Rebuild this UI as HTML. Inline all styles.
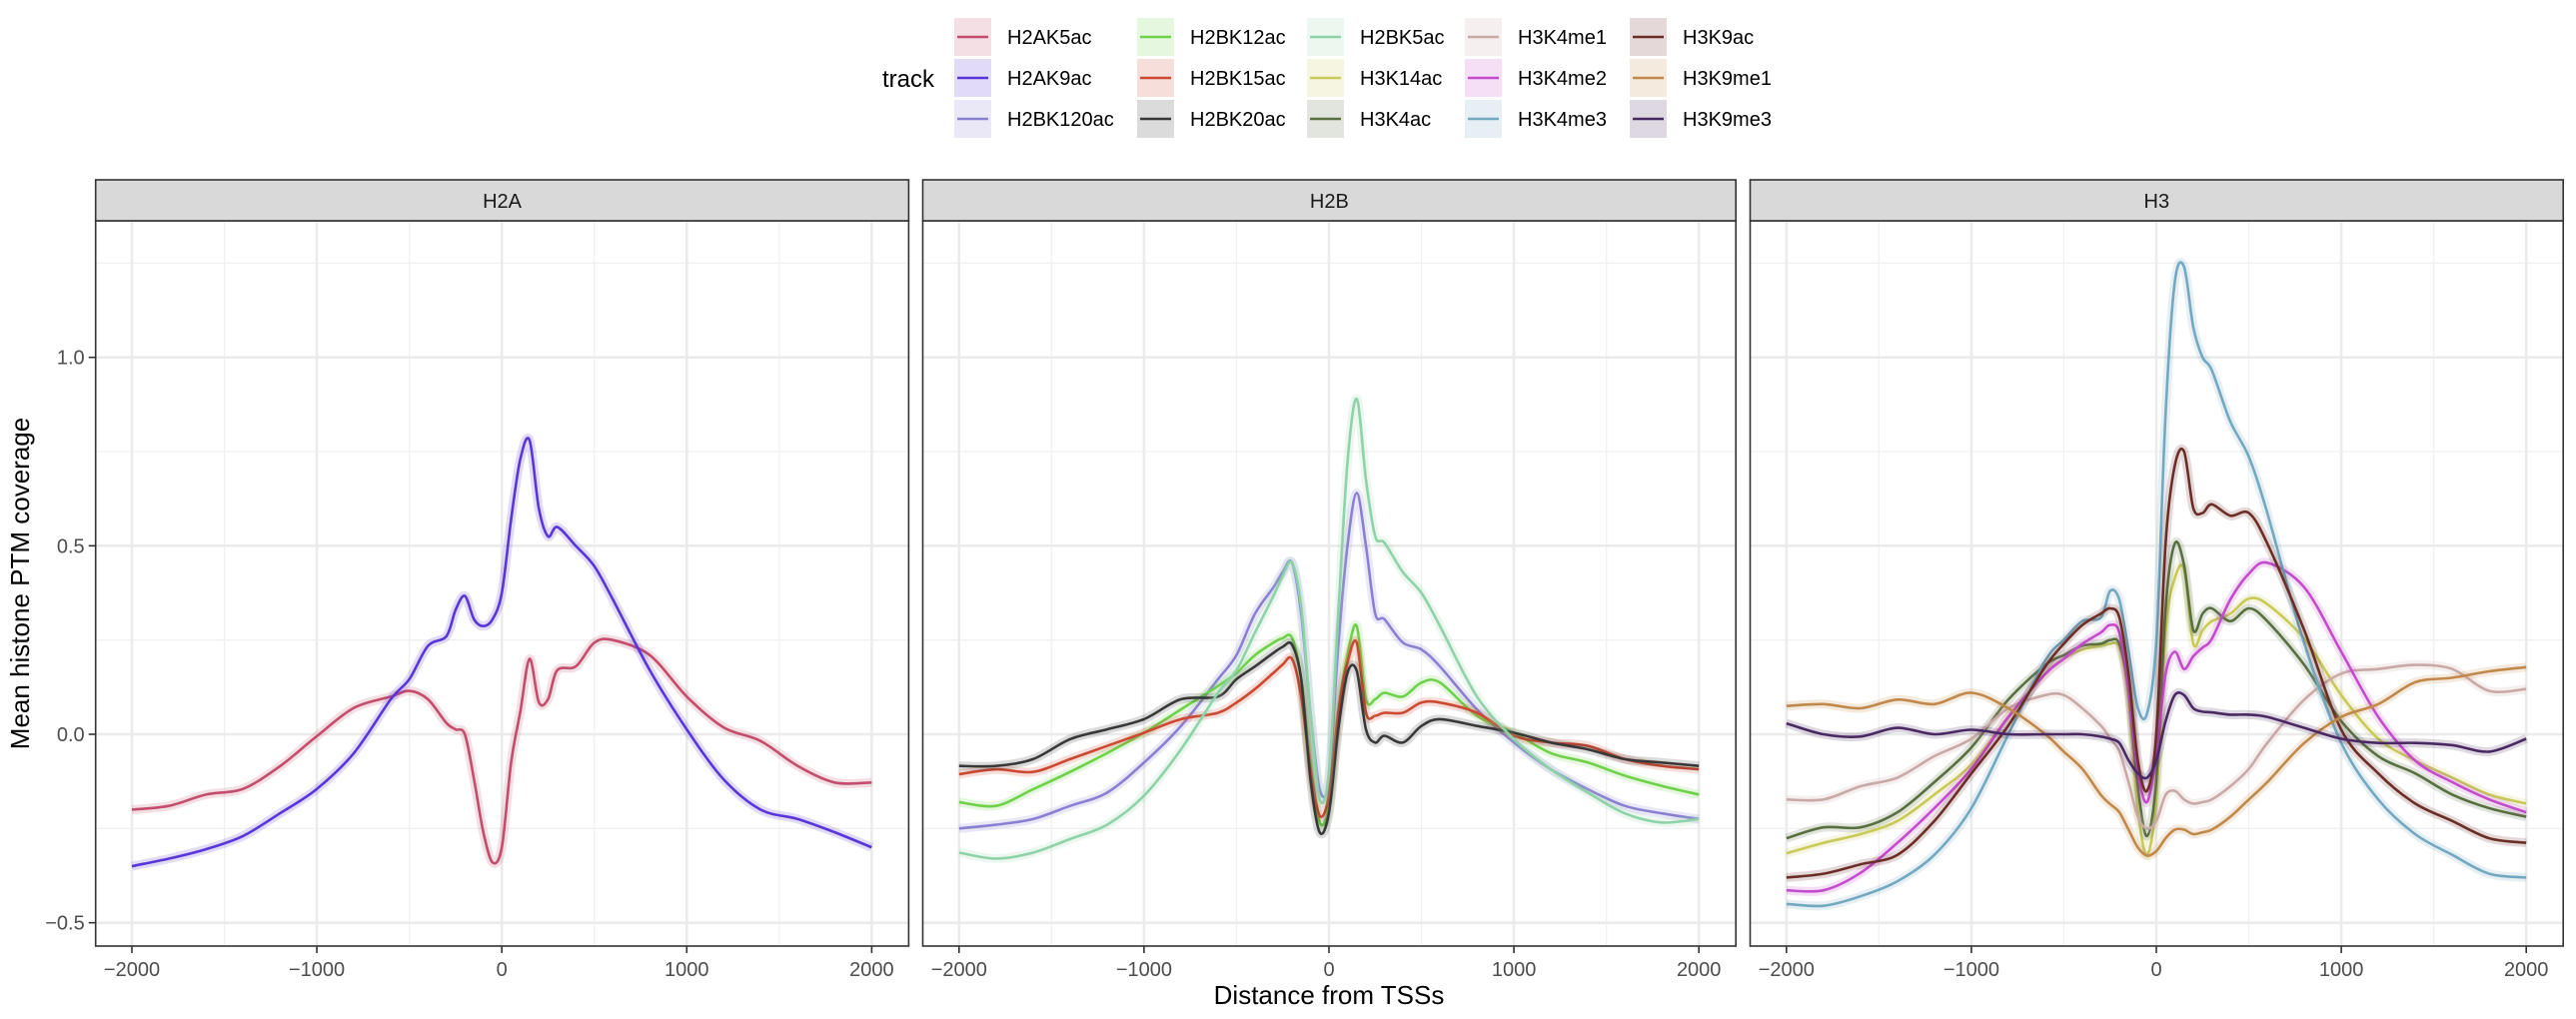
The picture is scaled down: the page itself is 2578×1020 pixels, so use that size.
<!DOCTYPE html>
<html><head><meta charset="utf-8">
<style>
html,body{margin:0;padding:0;background:#fff;}
svg{display:block;font-family:"Liberation Sans",Arial,sans-serif;}
</style></head>
<body>
<svg id="chart" width="2578" height="1020" viewBox="0 0 2578 1020" xmlns="http://www.w3.org/2000/svg">
<rect width="2578" height="1020" fill="#fff"/>
<g id="legend"></g>
<g id="panels"></g>
<text x="1330" y="1005" font-size="26" text-anchor="middle" fill="#000">Distance from TSSs</text>
<text transform="translate(29,584) rotate(-90)" font-size="26" text-anchor="middle" fill="#000">Mean histone PTM coverage</text>
</svg>
<script>
const xPos = [-2000,-1800,-1600,-1400,-1200,-1000,-800,-600,-500,-400,-300,-250,-200,-150,-100,-50,0,50,100,150,200,250,300,400,500,600,800,1000,1200,1400,1600,1800,2000];
const facets = ["H2A","H2B","H3"];
const xTicks = [-2000,-1000,0,1000,2000];
const yTicks = [-0.5,0.0,0.5,1.0];
const yTickLabels = ["\u22120.5","0.0","0.5","1.0"];
const xTickLabels = ["\u22122000","\u22121000","0","1000","2000"];
const trackNames = ["H2AK5ac","H2AK9ac","H2BK120ac","H2BK12ac","H2BK15ac","H2BK20ac","H2BK5ac","H3K14ac","H3K4ac","H3K4me1","H3K4me2","H3K4me3","H3K9ac","H3K9me1","H3K9me3"];
const trackFacet = ["H2A","H2A","H2B","H2B","H2B","H2B","H2B","H3","H3","H3","H3","H3","H3","H3","H3"];
const trackColors = ["#c24d6c","#5a36d8","#8a80d2","#6fd04a","#cc4a33","#383838","#8fd2a8","#c9c95a","#587040","#c9a9a6","#c24ccb","#72a8c0","#6b2e26","#c0884a","#4a2862"];
const H2AK5ac = [-0.20,-0.19,-0.16,-0.145,-0.085,-0.005,0.07,0.10,0.115,0.093,0.03,0.013,0.0,-0.12,-0.26,-0.34,-0.30,-0.075,0.06,0.2,0.085,0.093,0.17,0.18,0.243,0.25,0.21,0.10,0.018,-0.018,-0.084,-0.128,-0.128];
const H2AK9ac = [-0.35,-0.33,-0.305,-0.27,-0.21,-0.145,-0.05,0.093,0.146,0.234,0.26,0.33,0.367,0.305,0.287,0.305,0.375,0.57,0.73,0.78,0.60,0.525,0.55,0.50,0.446,0.358,0.17,0.013,-0.12,-0.2,-0.225,-0.26,-0.3];
const H2BK120ac = [-0.25,-0.24,-0.225,-0.19,-0.155,-0.075,0.022,0.146,0.21,0.32,0.39,0.43,0.455,0.32,0.057,-0.146,-0.12,0.234,0.5,0.64,0.5,0.32,0.305,0.243,0.225,0.18,0.066,-0.022,-0.093,-0.146,-0.19,-0.21,-0.225];
const H2BK12ac = [-0.18,-0.19,-0.146,-0.10,-0.05,0.004,0.066,0.128,0.163,0.21,0.243,0.255,0.256,0.146,-0.075,-0.234,-0.19,0.057,0.21,0.287,0.093,0.093,0.11,0.10,0.137,0.137,0.049,0.004,-0.05,-0.075,-0.11,-0.137,-0.16];
const H2BK15ac = [-0.106,-0.093,-0.10,-0.066,-0.031,0.004,0.04,0.057,0.084,0.12,0.163,0.185,0.2,0.10,-0.093,-0.216,-0.163,0.057,0.19,0.243,0.057,0.049,0.057,0.057,0.084,0.084,0.057,-0.004,-0.022,-0.031,-0.066,-0.084,-0.093];
const H2BK20ac = [-0.084,-0.084,-0.066,-0.013,0.013,0.04,0.093,0.10,0.146,0.18,0.216,0.232,0.238,0.146,-0.12,-0.26,-0.208,0.013,0.163,0.168,0.013,-0.022,-0.004,-0.022,0.022,0.04,0.022,0.004,-0.022,-0.04,-0.066,-0.075,-0.084];
const H2BK5ac = [-0.314,-0.33,-0.314,-0.278,-0.24,-0.163,-0.04,0.11,0.17,0.27,0.367,0.42,0.455,0.34,0.057,-0.172,-0.10,0.32,0.72,0.89,0.676,0.525,0.508,0.43,0.375,0.287,0.10,-0.013,-0.093,-0.155,-0.21,-0.234,-0.225];
const H3K14ac = [-0.316,-0.288,-0.265,-0.23,-0.16,-0.08,0.046,0.16,0.20,0.225,0.235,0.24,0.23,0.10,-0.2,-0.32,-0.17,0.276,0.414,0.437,0.24,0.276,0.30,0.32,0.36,0.345,0.253,0.104,-0.012,-0.07,-0.115,-0.16,-0.184];
const H3K4ac = [-0.276,-0.247,-0.247,-0.207,-0.127,-0.035,0.092,0.184,0.21,0.235,0.24,0.25,0.24,0.12,-0.14,-0.27,-0.12,0.334,0.506,0.449,0.276,0.32,0.334,0.30,0.334,0.30,0.184,0.035,-0.058,-0.104,-0.16,-0.196,-0.219];
const H3K4me1 = [-0.173,-0.173,-0.138,-0.115,-0.058,-0.012,0.069,0.104,0.104,0.069,0.023,-0.01,-0.046,-0.127,-0.219,-0.25,-0.23,-0.161,-0.15,-0.173,-0.184,-0.18,-0.173,-0.138,-0.092,-0.023,0.092,0.161,0.173,0.184,0.173,0.115,0.12];
const H3K4me2 = [-0.414,-0.414,-0.368,-0.288,-0.196,-0.092,0.046,0.16,0.20,0.24,0.27,0.29,0.27,0.12,-0.1,-0.18,-0.05,0.16,0.219,0.173,0.207,0.23,0.253,0.357,0.426,0.455,0.39,0.219,0.046,-0.07,-0.127,-0.173,-0.207];
const H3K4me3 = [-0.45,-0.455,-0.43,-0.39,-0.32,-0.196,0.0,0.196,0.25,0.30,0.31,0.38,0.357,0.22,0.07,0.055,0.25,0.85,1.2,1.24,1.08,1.0,0.966,0.83,0.736,0.587,0.24,-0.023,-0.173,-0.265,-0.32,-0.37,-0.38];
const H3K9ac = [-0.38,-0.37,-0.345,-0.32,-0.23,-0.104,0.023,0.18,0.24,0.29,0.32,0.334,0.31,0.16,-0.07,-0.15,0.0,0.506,0.713,0.75,0.60,0.587,0.61,0.58,0.587,0.506,0.276,0.012,-0.104,-0.184,-0.23,-0.276,-0.288];
const H3K9me1 = [0.075,0.08,0.069,0.092,0.08,0.11,0.069,0.0,-0.046,-0.092,-0.161,-0.185,-0.207,-0.253,-0.30,-0.322,-0.31,-0.276,-0.253,-0.253,-0.265,-0.26,-0.253,-0.219,-0.173,-0.127,-0.023,0.046,0.08,0.138,0.15,0.167,0.178];
const H3K9me3 = [0.029,0.0,-0.006,0.017,0.0,0.012,0.0,0.0,0.0,0.0,-0.006,-0.012,-0.023,-0.069,-0.104,-0.115,-0.069,0.035,0.104,0.104,0.069,0.06,0.058,0.052,0.052,0.046,0.017,-0.012,-0.023,-0.023,-0.029,-0.046,-0.012];
const trackValues = [H2AK5ac,H2AK9ac,H2BK120ac,H2BK12ac,H2BK15ac,H2BK20ac,H2BK5ac,H3K14ac,H3K4ac,H3K4me1,H3K4me2,H3K4me3,H3K9ac,H3K9me1,H3K9me3];

const NS="http://www.w3.org/2000/svg";
function mk(tag,attrs,parent){const e=document.createElementNS(NS,tag);for(const k in attrs)e.setAttribute(k,attrs[k]);if(parent)parent.appendChild(e);return e;}

const panelLefts=[95.7,923.5,1751.5], panelW=813.7, panelTop=221, panelBottom=947, stripTop=180;
function xScale(i,v){return panelLefts[i]+36.3+(v+2000)/4000*740.4;}
function yScale(v){return 735-v*377.3;}
function pathFor(i,vals){
  const pts=xPos.map((x,k)=>[xScale(i,x),yScale(vals[k])]);
  let d="M"+pts[0][0].toFixed(1)+","+pts[0][1].toFixed(1);
  for(let k=0;k<pts.length-1;k++){
    const p0=pts[Math.max(0,k-1)],p1=pts[k],p2=pts[k+1],p3=pts[Math.min(pts.length-1,k+2)];
    const t=0.16;
    const c1=[p1[0]+(p2[0]-p0[0])*t,p1[1]+(p2[1]-p0[1])*t];
    const c2=[p2[0]-(p3[0]-p1[0])*t,p2[1]-(p3[1]-p1[1])*t];
    d+=" C"+c1[0].toFixed(1)+","+c1[1].toFixed(1)+" "+c2[0].toFixed(1)+","+c2[1].toFixed(1)+" "+p2[0].toFixed(1)+","+p2[1].toFixed(1);
  }
  return d;
}

const panels=document.getElementById('panels');
facets.forEach((f,i)=>{
  const L=panelLefts[i],R=L+panelW;
  const g=mk('g',{},panels);
  
  
  mk('rect',{x:L,y:panelTop,width:panelW,height:panelBottom-panelTop,fill:'#fff'},g);
  [-0.25,0.25,0.75,1.25].forEach(v=>{mk('line',{x1:L,x2:R,y1:yScale(v),y2:yScale(v),stroke:'#f0f0f0','stroke-width':1.3},g);});
  [-1500,-500,500,1500].forEach(v=>{mk('line',{x1:xScale(i,v),x2:xScale(i,v),y1:panelTop,y2:panelBottom,stroke:'#f0f0f0','stroke-width':1.3},g);});
  yTicks.forEach(v=>{mk('line',{x1:L,x2:R,y1:yScale(v),y2:yScale(v),stroke:'#ebebeb','stroke-width':2.6},g);});
  xTicks.forEach(v=>{mk('line',{x1:xScale(i,v),x2:xScale(i,v),y1:panelTop,y2:panelBottom,stroke:'#ebebeb','stroke-width':2.6},g);});
  trackNames.forEach((n,t)=>{
    if(trackFacet[t]!==f)return;
    const d=pathFor(i,trackValues[t]);
    const band=mk('path',{d:d,fill:'none',stroke:trackColors[t],'stroke-opacity':0.18,'stroke-width':9,'stroke-linejoin':'round'},g);
    
    
    const ln=mk('path',{d:d,fill:'none',stroke:trackColors[t],'stroke-width':2.6,'stroke-linejoin':'round'},g);
    
    
  });
  mk('rect',{x:L,y:panelTop,width:panelW,height:panelBottom-panelTop,fill:'none',stroke:'#333','stroke-width':1.6},g);
  const st=mk('rect',{x:L,y:stripTop,width:panelW,height:panelTop-stripTop,fill:'#d9d9d9',stroke:'#333','stroke-width':1.6},g);
  
  
  const stt=mk('text',{x:L+panelW/2,y:208,'font-size':20,'text-anchor':'middle',fill:'#1a1a1a'},g);
  stt.textContent=f;
  
  
  xTicks.forEach((v,k)=>{
    mk('line',{x1:xScale(i,v),x2:xScale(i,v),y1:panelBottom,y2:panelBottom+7,stroke:'#333','stroke-width':1.6},g);
    const tx=mk('text',{x:xScale(i,v),y:977,'font-size':20,'text-anchor':'middle',fill:'#4d4d4d'},g);
    tx.textContent=xTickLabels[k];
    
    
  });
  if(i===0){
    yTicks.forEach((v,k)=>{
      mk('line',{x1:L-7,x2:L,y1:yScale(v),y2:yScale(v),stroke:'#333','stroke-width':1.6},g);
      const ty=mk('text',{x:L-11,y:yScale(v)+7,'font-size':20,'text-anchor':'end',fill:'#4d4d4d'},g);
      ty.textContent=yTickLabels[k];
      
      
    });
  }
});

const legend=document.getElementById('legend');
const lt=mk('text',{x:883,y:87,'font-size':24,fill:'#000'},legend);
lt.textContent='track';


const colX=[955,1138,1308,1466,1631], rowY=[18,59,100];
trackNames.forEach((n,t)=>{
  const c=Math.floor(t/3), r=t%3;
  const g=mk('g',{},legend);
  
  
  mk('rect',{x:colX[c],y:rowY[r],width:37,height:38,fill:trackColors[t],'fill-opacity':0.18},g);
  mk('line',{x1:colX[c]+3,x2:colX[c]+34,y1:rowY[r]+19,y2:rowY[r]+19,stroke:trackColors[t],'stroke-width':2.6},g);
  const tx=mk('text',{x:colX[c]+53,y:rowY[r]+26,'font-size':20,fill:'#000'},g);
  tx.textContent=n;
});
</script>
</body></html>
